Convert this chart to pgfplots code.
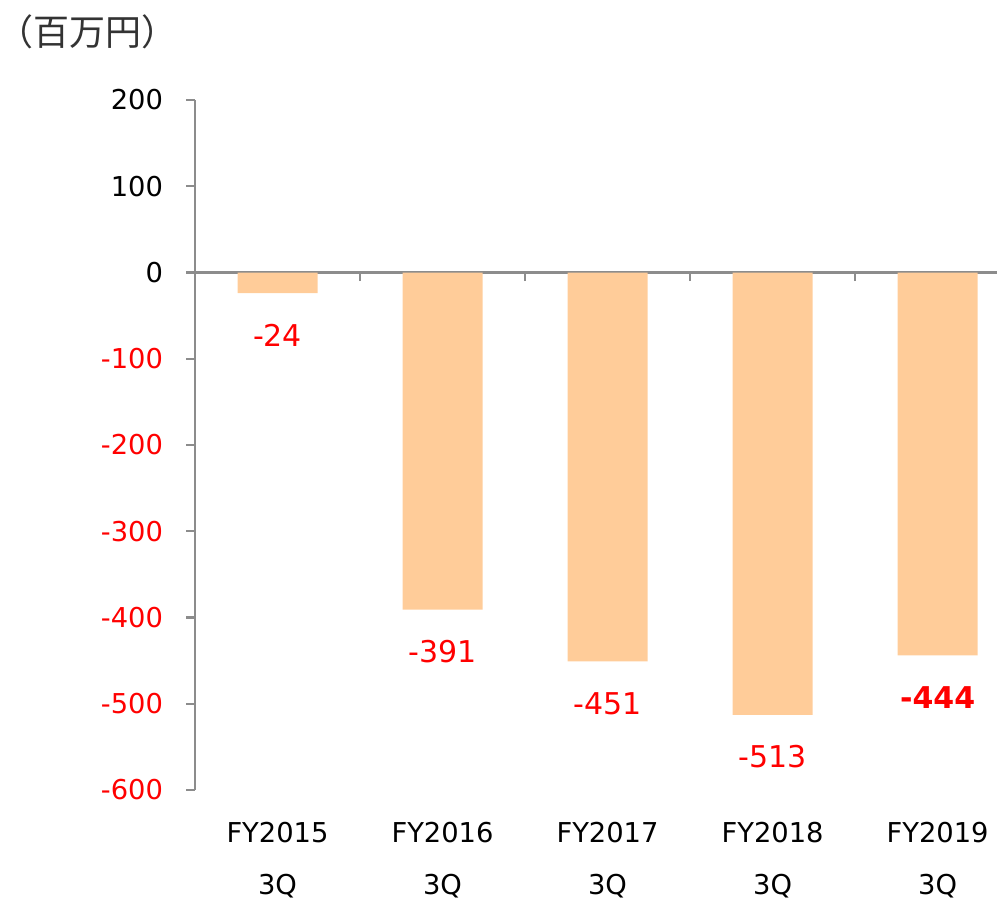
\documentclass[border=0pt]{standalone}
\usepackage{fontspec}
\setmainfont{DejaVu Sans}
\newfontfamily\cjk{Noto Sans CJK JP}
\usepackage{pgfplots}
\pgfplotsset{compat=1.18}
\definecolor{barpeach}{HTML}{FFCC99}
\definecolor{axgray}{HTML}{8C8C8C}
\definecolor{lblred}{HTML}{FF0000}
\tikzset{cat/.style={anchor=base, font=\fontsize{20.5}{24}\selectfont}}

\begin{document}
\begin{tikzpicture}
\begin{axis}[
    at={(0,0)}, anchor=south west,
    scale only axis,
    width=601.5pt, height=517.5pt,
    xmin=-0.5, xmax=4.36,
    ymin=-600, ymax=200,
    axis x line*=middle,
    axis y line*=left,
    axis line style={axgray, line width=1.7pt},
    tick style={axgray, line width=1.7pt},
    tick align=outside,
    major tick length=6.5pt,
    xtick={0.5,1.5,2.5,3.5},
    xticklabels={},
    ytick={-600,-500,-400,-300,-200,-100,0,100,200},
    yticklabels={\textcolor{lblred}{-600},\textcolor{lblred}{-500},\textcolor{lblred}{-400},\textcolor{lblred}{-300},\textcolor{lblred}{-200},\textcolor{lblred}{-100},0,100,200},
    yticklabel style={font=\fontsize{20.5}{24}\selectfont, anchor=east, xshift=-14pt},
    ybar, bar width=60pt,
    clip=false,
    point meta=explicit symbolic,
    nodes near coords,
    nodes near coords align={center},
    every node near coord/.append style={font=\fontsize{22.5}{26}\selectfont, text=lblred, yshift=-31.5pt},
]
\addplot[fill=barpeach, draw=none] coordinates {
    (0,-24) [-24]
    (1,-391) [-391]
    (2,-451) [-451]
    (3,-513) [-513]
    (4,-444) [\textbf{-444}]
};
\node[cat, yshift=-39pt] at (axis cs:0,-600) {FY2015};
\node[cat, yshift=-39pt] at (axis cs:1,-600) {FY2016};
\node[cat, yshift=-39pt] at (axis cs:2,-600) {FY2017};
\node[cat, yshift=-39pt] at (axis cs:3,-600) {FY2018};
\node[cat, yshift=-39pt] at (axis cs:4,-600) {FY2019};
\node[cat, yshift=-78pt] at (axis cs:0,-600) {3Q};
\node[cat, yshift=-78pt] at (axis cs:1,-600) {3Q};
\node[cat, yshift=-78pt] at (axis cs:2,-600) {3Q};
\node[cat, yshift=-78pt] at (axis cs:3,-600) {3Q};
\node[cat, yshift=-78pt] at (axis cs:4,-600) {3Q};
\end{axis}
\node[anchor=west, inner sep=0pt, font=\cjk\fontsize{27}{30}\selectfont, text=black!80] at (-148pt,569pt) {（百万円）};
\pgfresetboundingbox
\path (-146.25pt,-85.5pt) rectangle (601.5pt,592.5pt);
\end{tikzpicture}
\end{document}
